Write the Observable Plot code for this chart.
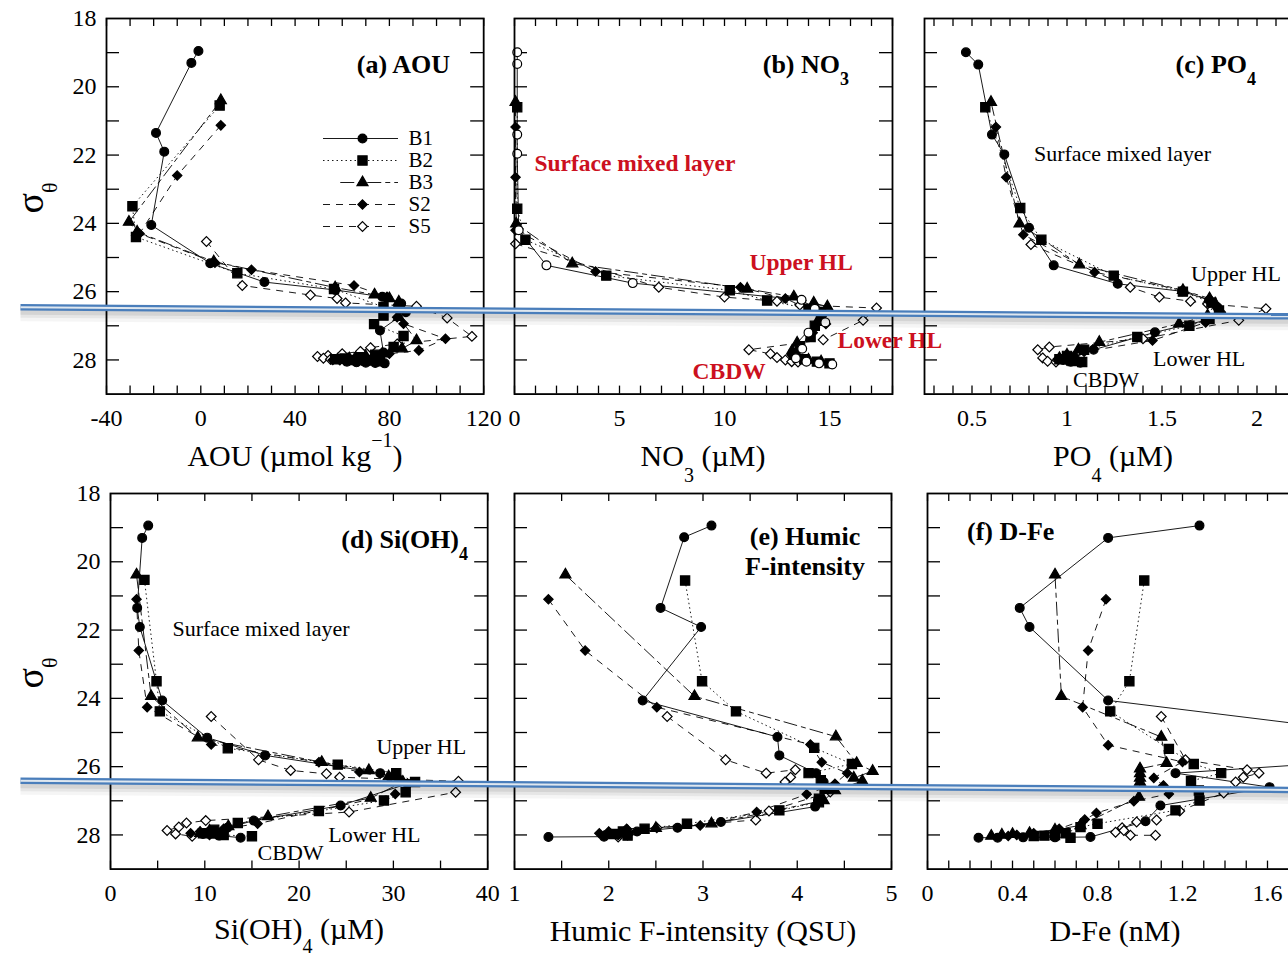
<!DOCTYPE html>
<html><head><meta charset="utf-8">
<script src="https://cdn.jsdelivr.net/npm/d3@7"></script>
<script src="https://cdn.jsdelivr.net/npm/@observablehq/plot@0.6"></script>
<style>
html,body{margin:0;padding:0;background:#fff;overflow:hidden;}
#page{position:relative;width:1288px;height:956px;overflow:hidden;background:#fff;font-family:"Liberation Serif","Times New Roman",serif;}
.box{position:absolute;}
.lbl{position:absolute;white-space:nowrap;line-height:1;color:#000;}
.sub{position:relative;}
</style></head><body><div id="page"></div>
<script>
// ---------- data: [value, sigma-theta] per station ----------
const seriesNames = ["B1","B2","B3","S2","S5"];

const aou_B1 = [[-1,18.95],[-4,19.3],[-19,21.35],[-15.5,21.9],[-21,24.05],[4,25.17],[27,25.72],[57,25.95],[77,26.15],[85,26.35],[87,26.6],[76,27.14],[77.5,27.78],[74,27.9],[70,27.97],[66,28.02],[62,28.05],[66,28.07],[70,28.08],[74,28.09],[78,28.1]];
const aou_B2 = [[8,20.55],[-29,23.5],[-27.5,24.4],[15.5,25.46],[56.5,25.92],[77.5,26.45],[77.5,26.7],[73.5,26.95],[86,27.3],[81.8,27.62],[74,27.85],[67,27.92],[61,27.96],[57,27.98],[63,28.0],[70,28.02],[76,28.04]];
const aou_B3 = [[8.5,20.4],[-30.5,23.96],[-27,24.25],[5.5,25.12],[57,25.88],[73.7,26.09],[80,26.2],[84,26.3],[84,26.75],[91.5,27.43],[85.4,27.67],[77,27.82],[70,27.9],[63,27.96],[58,28.0],[65,28.02],[72,28.04]];
const aou_S2 = [[8.5,21.13],[-10,22.6],[-26,24.3],[6,25.15],[21.5,25.36],[65,25.82],[79,26.15],[83,26.5],[83.3,26.75],[86,26.94],[103.8,27.38],[92.5,27.72],[80,27.82],[70,27.9],[62,27.96],[56,28.0],[61,28.02],[67,28.04]];
const aou_S5 = [[2.4,24.53],[17.6,25.82],[46.5,26.1],[57.8,26.2],[61.4,26.33],[91.5,26.43],[104.5,26.77],[115,27.31],[83.3,27.53],[72,27.64],[67.7,27.75],[60,27.82],[54,27.87],[49.5,27.9],[52,27.95],[55,27.98],[59,28.0],[63,28.0]];

const no3_B1 = [[0.13,18.99],[0.13,19.33],[0.13,21.4],[0.13,21.96],[0.2,24.2],[1.52,25.23],[5.63,25.75],[13.67,26.24],[14.3,26.5],[14.8,26.9],[14.0,27.2],[13.7,27.67],[13.4,27.95],[13.9,28.05],[14.5,28.1],[15.13,28.13]];
const no3_B2 = [[0.13,20.6],[0.13,23.57],[0.52,24.48],[4.37,25.53],[10.25,25.96],[12.03,26.26],[14.0,26.5],[14.6,26.6],[14.6,26.85],[14.3,27.0],[14.1,27.33],[13.6,27.6],[13.3,27.85],[13.8,27.98],[14.4,28.05],[15.0,28.1]];
const no3_B3 = [[0.05,20.45],[0.08,24.01],[2.75,25.18],[11.08,25.92],[13.3,26.15],[14.25,26.33],[14.9,26.44],[14.5,26.8],[13.46,27.5],[13.22,27.73],[13.5,27.9],[14.0,28.0],[14.6,28.05]];
const no3_S2 = [[0.05,21.18],[0.05,22.65],[0.05,24.2],[3.86,25.41],[10.76,25.87],[12.9,26.2],[14.65,26.7],[14.83,26.95],[14.2,27.2],[13.6,27.6],[13.2,27.85],[13.9,28.0],[14.6,28.06]];
const no3_S5 = [[0.05,24.6],[6.87,25.87],[10.0,26.16],[12.5,26.28],[13.59,26.39],[17.24,26.48],[16.6,26.84],[14.7,27.41],[11.16,27.7],[12.19,27.82],[12.5,27.93],[12.9,28.0],[13.2,28.05],[13.5,28.06]];

const po4_B1 = [[0.468,18.99],[0.533,19.35],[0.605,21.4],[0.67,21.98],[0.80,24.13],[0.93,25.23],[1.267,25.77],[1.606,25.99],[1.749,26.25],[1.79,26.45],[1.8,26.6],[1.73,26.84],[1.463,27.19],[1.14,27.7],[1.04,27.92],[0.98,28.0],[1.02,28.05],[1.07,28.08]];
const po4_B2 = [[0.57,20.6],[0.754,23.55],[0.865,24.48],[1.246,25.53],[1.61,26.0],[1.76,26.32],[1.8,26.55],[1.75,26.8],[1.644,27.0],[1.37,27.33],[1.09,27.7],[1.0,27.88],[0.96,27.98],[1.03,28.03],[1.08,28.06]];
const po4_B3 = [[0.6,20.45],[0.75,24.01],[1.065,25.21],[1.61,25.96],[1.75,26.2],[1.78,26.35],[1.74,26.7],[1.59,26.94],[1.17,27.48],[1.06,27.7],[1.0,27.85],[0.96,27.95],[1.02,28.0]];
const po4_S2 = [[0.626,21.18],[0.68,22.65],[0.77,24.33],[1.145,25.43],[1.61,25.96],[1.75,26.25],[1.81,26.6],[1.73,26.9],[1.45,27.43],[1.09,27.76],[0.99,27.9],[0.95,27.98],[1.0,28.02]];
const po4_S5 = [[0.81,24.62],[1.333,25.87],[1.486,26.16],[1.65,26.28],[1.74,26.36],[2.047,26.5],[1.904,26.84],[1.40,27.38],[0.907,27.62],[0.846,27.7],[0.872,27.94],[0.898,28.04],[0.942,28.06]];

const si_B1 = [[4.0,18.94],[3.36,19.3],[2.83,21.35],[3.11,21.91],[5.48,24.06],[10.25,25.15],[16.4,25.67],[28.6,26.19],[30.5,26.36],[31.5,26.5],[24.4,27.14],[15.2,27.58],[12.4,27.79],[10.5,27.9],[9.8,27.97],[11.5,28.02],[13.8,28.08]];
const si_B2 = [[3.6,20.53],[4.88,23.5],[5.23,24.38],[12.44,25.46],[24.1,25.94],[30.3,26.19],[32.3,26.45],[31.3,26.75],[29.0,26.99],[22.1,27.3],[13.5,27.65],[11.0,27.85],[9.8,27.95],[12.0,28.0],[15.0,28.04]];
const si_B3 = [[2.76,20.38],[4.31,23.94],[9.26,25.15],[22.4,25.87],[27.4,26.11],[29.5,26.29],[31,26.45],[27.6,26.92],[16.7,27.46],[12.5,27.75],[10.5,27.88],[9.5,27.95],[11,28.0]];
const si_S2 = [[2.76,21.1],[3.0,22.6],[3.89,24.26],[10.68,25.35],[22.1,25.87],[26.4,26.16],[29.6,26.33],[30.2,26.8],[15.6,27.67],[12.0,27.82],[9.5,27.9],[8.5,27.95],[10.5,28.0]];
const si_S5 = [[10.68,24.53],[15.7,25.8],[19.1,26.11],[22.9,26.21],[24.3,26.31],[36.9,26.43],[36.6,26.75],[25.3,27.33],[10.1,27.58],[8.06,27.65],[7.25,27.77],[6.0,27.87],[6.9,27.97],[8.66,28.04]];

const hum_B1 = [[3.09,18.94],[2.80,19.28],[2.55,21.35],[2.98,21.91],[2.36,24.06],[3.79,25.13],[3.81,25.67],[4.2,26.19],[4.28,26.45],[4.35,26.62],[4.22,26.99],[4.19,27.17],[3.19,27.62],[2.73,27.79],[2.3,27.9],[2.1,27.98],[1.95,28.05],[1.36,28.06]];
const hum_B2 = [[2.81,20.55],[2.99,23.5],[3.35,24.38],[4.18,25.45],[4.58,25.92],[4.12,26.19],[4.25,26.4],[4.29,26.65],[4.23,26.94],[4.23,27.04],[3.81,27.28],[2.83,27.67],[2.38,27.82],[2.15,27.9],[2.05,27.97],[2.2,28.02]];
const hum_B3 = [[1.54,20.38],[2.91,23.94],[4.41,25.12],[4.63,25.9],[4.80,26.13],[4.6,26.33],[4.69,26.42],[4.4,26.7],[4.28,26.99],[3.09,27.67],[2.5,27.8],[2.2,27.9],[2.0,27.97]];
const hum_S2 = [[1.36,21.1],[1.75,22.6],[2.51,24.26],[4.14,25.35],[4.26,25.87],[4.53,26.19],[4.4,26.5],[4.1,26.81],[3.57,27.33],[2.97,27.72],[2.19,27.82],[2.0,27.9],[1.9,27.95],[2.1,28.0]];
const hum_S5 = [[2.62,24.53],[3.24,25.8],[3.67,26.19],[3.98,26.09],[3.93,26.31],[3.87,26.45],[4.35,26.74],[3.7,27.3],[3.56,27.56],[2.51,27.79],[2.2,27.88],[2.0,27.95],[1.95,28.02],[2.1,28.06],[2.2,28.0]];

const fe_B1 = [[1.28,18.94],[0.85,19.3],[0.434,21.35],[0.48,21.91],[0.85,24.06],[2.77,25.53],[1.167,26.19],[1.61,26.6],[1.096,27.14],[1.026,27.6],[0.767,28.06],[0.6,28.07],[0.45,28.07],[0.33,28.08],[0.24,28.08]];
const fe_B2 = [[1.02,20.55],[0.95,23.5],[0.86,24.38],[1.136,25.48],[1.253,25.92],[1.382,26.19],[1.24,26.42],[1.277,26.7],[1.28,26.99],[1.167,27.28],[0.80,27.67],[0.72,27.77],[0.65,27.95],[0.6,28.0],[0.55,28.02],[0.5,28.03],[0.673,28.08]];
const fe_B3 = [[0.60,20.38],[0.63,23.94],[1.10,25.13],[1.125,25.9],[1.0,26.06],[1.0,26.2],[1.0,26.33],[1.0,26.45],[0.995,26.89],[0.72,27.72],[0.6,27.85],[0.48,27.95],[0.4,27.98],[0.35,28.0],[0.3,28.03]];
const fe_S2 = [[0.84,21.1],[0.756,22.6],[0.73,24.26],[0.85,25.37],[1.2,25.86],[1.065,26.33],[1.11,26.55],[1.136,26.8],[0.971,27.01],[0.795,27.36],[0.74,27.55],[0.62,27.82],[0.5,27.95],[0.42,28.0],[0.38,28.03]];
const fe_S5 = [[1.10,24.53],[1.214,25.8],[1.504,26.09],[1.56,26.19],[1.486,26.31],[1.45,26.45],[1.394,26.77],[1.187,27.3],[1.078,27.56],[0.984,27.62],[0.916,27.79],[0.885,27.92],[0.924,27.87],[0.955,28.01],[1.073,28.01]];

// tick values
const ticksA = [-40,0,40,80,120];
const ticksB = [0,5,10,15];
const ticksC = [0.5,1,1.5,2];
const ticksD = [0,10,20,30,40];
const ticksE = [1,2,3,4,5];
const ticksF = [0,0.4,0.8,1.2,1.6];
const sigmaTicks = [18,20,22,24,26,28];

// layer annotations [text, value, sigma]
const notesB = [["Surface mixed layer",0.95,22.25],["Upper HL",11.19,25.14],["Lower HL",15.38,27.43],["CBDW",8.48,28.34]];
const notesC = [["Surface mixed layer",0.826,21.98],["Upper HL",1.653,25.47],["Lower HL",1.453,27.96],["CBDW",1.032,28.6]];
const notesD = [["Surface mixed layer",6.57,21.98],["Upper HL",28.2,25.41],["Lower HL",23.1,28.01],["CBDW",15.6,28.54]];

// hydrographic boundary (fraction of page width, sigma-theta) per row
const boundaryTop = [{f:0.0155,s:26.457},{f:1,s:26.723}];
const boundaryBottom = [{f:0.0155,s:26.416},{f:1,s:26.682}];

// ---------- styles ----------
const FONT = '"Liberation Serif","Times New Roman",serif';
const sty = {
  B1:{symbol:"circle",r:4.4,fill:"black",dash:null},
  B2:{symbol:"square",r:5.2,fill:"black",dash:"1.5,3"},
  B3:{symbol:"triangle",r:4.1,fill:"black",dash:"14,4,5,4"},
  S2:{symbol:"diamond2",r:4.2,fill:"black",dash:"7,6"},
  S5:{symbol:"diamond2",r:4.4,fill:"white",dash:"7,6"}
};
const drawOrder = ["S5","S2","B3","B2","B1"];
const rows = [{fy0:18,fy1:393.6},{fy0:493,fy1:868.6}];

const panels = [
  {row:0,fx0:106,fx1:483.2,xd:[-40,120],ticks:ticksA,minor:d3.range(-40,121,10),ylab:true,
   data:{B1:aou_B1,B2:aou_B2,B3:aou_B3,S2:aou_S2,S5:aou_S5}},
  {row:0,fx0:514,fx1:892,xd:[0,18],ticks:ticksB,minor:d3.range(0,19,1),b1open:true,
   data:{B1:no3_B1,B2:no3_B2,B3:no3_B3,S2:no3_S2,S5:no3_S5},notes:notesB,red:true},
  {row:0,fx0:923.5,fx1:1303.5,xd:[0.25,2.25],ticks:ticksC,minor:d3.range(3,23).map(i=>i/10),
   data:{B1:po4_B1,B2:po4_B2,B3:po4_B3,S2:po4_S2,S5:po4_S5},notes:notesC},
  {row:1,fx0:110,fx1:487.2,xd:[0,40],ticks:ticksD,minor:d3.range(0,41,5),ylab:true,
   data:{B1:si_B1,B2:si_B2,B3:si_B3,S2:si_S2,S5:si_S5},notes:notesD},
  {row:1,fx0:514,fx1:891,xd:[1,5],ticks:ticksE,minor:d3.range(2,11).map(i=>i/2),
   data:{B1:hum_B1,B2:hum_B2,B3:hum_B3,S2:hum_S2,S5:hum_S5}},
  {row:1,fx0:927,fx1:1309.5,xd:[0,1.8],ticks:ticksF,minor:d3.range(0,19).map(i=>i/10),
   data:{B1:fe_B1,B2:fe_B2,B3:fe_B3,S2:fe_S2,S5:fe_S5}}
];

const page = document.getElementById("page");
function place(node, left, top) {
  const d = document.createElement("div");
  d.className = "box"; d.style.left = left + "px"; d.style.top = top + "px";
  d.appendChild(node); page.appendChild(d);
}
const baseStyle = {background:"transparent",overflow:"visible",fontFamily:FONT,fontSize:"24px",color:"black",maxWidth:"none"};

function makePanel(p) {
  const row = rows[p.row];
  const mL = 70, mR = 12, mT = 12, mB = 50;
  const iw = p.fx1 - p.fx0, ih = row.fy1 - row.fy0;
  const yMinor = d3.range(19,29);
  const tk = {stroke:"black",strokeWidth:1.3};
  const marks = [
    Plot.ruleX(p.minor,{x:d=>d,insetTop:ih-8,...tk}),
    Plot.ruleX(p.minor,{x:d=>d,insetBottom:ih-8,...tk}),
    Plot.ruleY(yMinor,{y:d=>d,insetRight:iw-13,...tk}),
    Plot.ruleY(yMinor,{y:d=>d,insetLeft:iw-13,...tk})
  ];
  for (const s of drawOrder) {
    marks.push(Plot.line(p.data[s],{x:d=>d[0],y:d=>d[1],stroke:"black",strokeWidth:0.9,
      strokeDasharray:sty[s].dash||undefined,strokeLinecap:"butt"}));
  }
  for (const s of drawOrder) {
    const st = sty[s];
    const fill = (s==="B1" && p.b1open) ? "white" : st.fill;
    marks.push(Plot.dot(p.data[s],{x:d=>d[0],y:d=>d[1],symbol:st.symbol,r:st.r,fill,stroke:"black",strokeWidth:1.2}));
  }
  if (p.notes) {
    marks.push(Plot.text(p.notes,{x:d=>d[1],y:d=>d[2],text:d=>d[0],textAnchor:"start",lineAnchor:"middle",
      fontSize:p.red?23.5:22,fontWeight:p.red?"bold":"normal",fill:p.red?"#cc1020":"black"}));
  }
  marks.push(Plot.frame({stroke:"black",strokeWidth:1.8}));
  marks.push(Plot.axisX({ticks:p.ticks,tickSize:0,tickPadding:15,tickFormat:d=>String(d),label:null}));
  if (p.ylab) marks.push(Plot.axisY({ticks:sigmaTicks,tickSize:0,tickPadding:10,tickFormat:d=>String(d),label:null}));
  const chart = Plot.plot({
    width: iw+mL+mR, height: ih+mT+mB,
    marginLeft:mL, marginRight:mR, marginTop:mT, marginBottom:mB,
    x:{domain:p.xd,axis:null}, y:{domain:[18,29],reverse:true,axis:null},
    style:baseStyle, marks
  });
  place(chart, p.fx0-mL, row.fy0-mT);
}
panels.forEach(makePanel);

// legend (panel a)
(function(){
  const marks = [];
  const start = {B3:0.23};
  for (const s of seriesNames) {
    const st = sty[s];
    marks.push(Plot.ruleY([s],{y:d=>d,x1:start[s]||0,x2:1,stroke:"black",strokeWidth:0.9,strokeDasharray:st.dash||undefined}));
    marks.push(Plot.dot([s],{x:0.52,y:d=>d,symbol:st.symbol,r:st.r,fill:st.fill,stroke:"black",strokeWidth:1.2}));
    marks.push(Plot.text([s],{x:1,y:d=>d,dx:10,text:d=>d,textAnchor:"start",fontSize:21}));
  }
  const lg = Plot.plot({width:120,height:111,marginLeft:0,marginRight:45,marginTop:11,marginBottom:11,
    x:{domain:[0,1],axis:null},y:{type:"point",domain:seriesNames,padding:0,axis:null},style:baseStyle,marks});
  place(lg,323,126);
})();

// boundary overlays
function boundary(data, top) {
  const line = (o) => Plot.line(data,{x:"f",y:"s",strokeLinecap:"butt",...o});
  const ov = Plot.plot({width:1288,height:420,marginLeft:0,marginRight:0,marginTop:18,marginBottom:26.4,
    x:{domain:[0,1],axis:null},y:{domain:[18,29],reverse:true,axis:null},style:baseStyle,
    marks:[
      line({stroke:"#000",strokeOpacity:0.04,strokeWidth:14,dy:7}),
      line({stroke:"#000",strokeOpacity:0.06,strokeWidth:9,dy:6}),
      line({stroke:"#000",strokeOpacity:0.08,strokeWidth:5,dy:5}),
      line({stroke:"#4a7ebb",strokeWidth:6.5}),
      line({stroke:"#dfe7ef",strokeWidth:2})
    ]});
  place(ov, 0, top);
}
boundary(boundaryTop, 0);
boundary(boundaryBottom, 475);

// HTML text labels
function label(h, x, y, a, f, bold, rot) {
  const el = document.createElement("div");
  el.className = "lbl"; el.innerHTML = h;
  el.style.left = x+"px"; el.style.top = y+"px";
  el.style.fontSize = f+"px"; el.style.fontWeight = bold ? "bold" : "normal";
  const tx = a==="end" ? "-100%" : a==="middle" ? "-50%" : "0";
  el.style.transform = `translate(${tx},-50%)` + (rot ? ` rotate(${rot}deg)` : "");
  page.appendChild(el);
}
const sub = (t, sz, dy) => `<span class="sub" style="font-size:${sz}px;top:${dy}px">${t}</span>`;
// panel titles
label("(a) AOU", 450, 65, "end", 26, true);
label("(b) NO"+sub("3",18,12), 849, 65, "end", 26, true);
label("(c) PO"+sub("4",18,12), 1256, 65, "end", 26, true);
label("(d) Si(OH)"+sub("4",18,12), 468, 540, "end", 26, true);
label("(e) Humic", 805, 537, "middle", 26, true);
label("F-intensity", 805, 567, "middle", 26, true);
label("(f) D-Fe", 967, 532, "start", 26, true);
// axis titles
label("AOU (µmol kg"+sub("−1",20,-19)+")", 295, 456, "middle", 30, false);
label("NO"+sub("3",20,16)+" (µM)", 703, 456, "middle", 30, false);
label("PO"+sub("4",20,16)+" (µM)", 1113, 456, "middle", 30, false);
label("Si(OH)"+sub("4",20,14)+" (µM)", 299, 929, "middle", 30, false);
label("Humic F-intensity (QSU)", 703, 931, "middle", 30, false);
label("D-Fe (nM)", 1115, 931, "middle", 30, false);
// y titles
label("σ"+sub("θ",22,14), 30, 198, "middle", 38, false, -90);
label("σ"+sub("θ",22,14), 30, 673, "middle", 38, false, -90);
</script></body></html>
